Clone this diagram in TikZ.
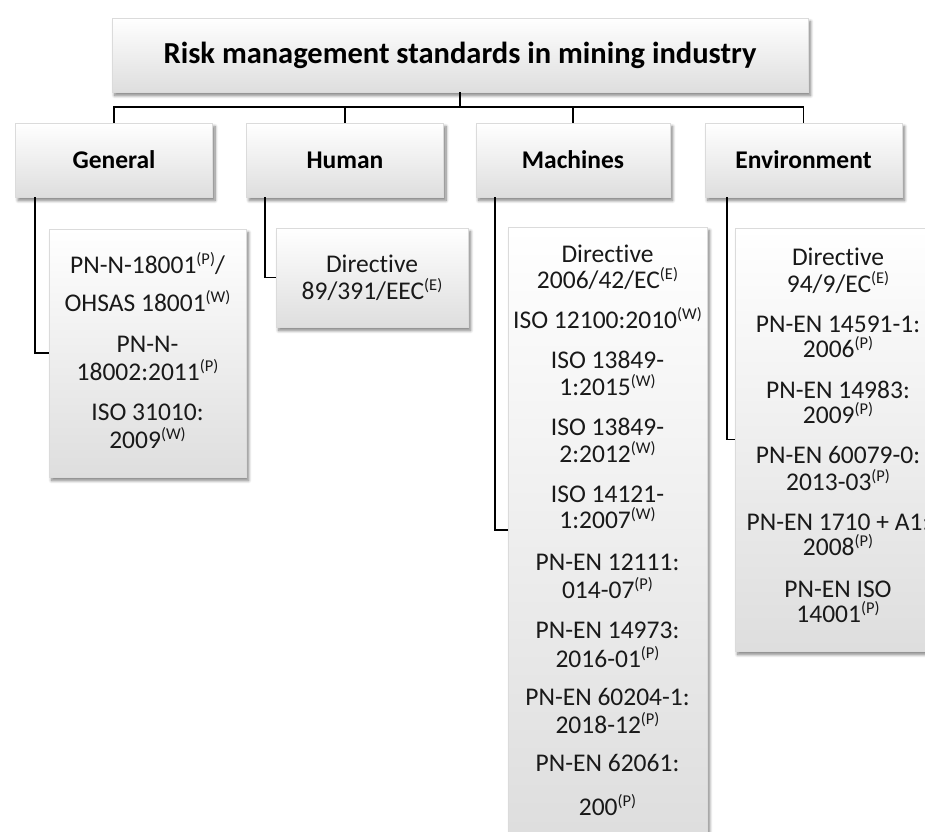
\documentclass[tikz,border=0pt]{standalone}
\usepackage{fontspec}
\setmainfont{Carlito}[Ligatures=NoCommon]
\usetikzlibrary{shadows.blur}
\newcommand\supx[1]{\raisebox{8.5pt}{\fontsize{16.5}{17}\selectfont #1}}
\tikzset{
  box/.style={rectangle, inner sep=0pt, draw=black!14, line width=0.5pt,
    top color=white, bottom color=black!13,
    blur shadow={shadow xshift=2.5pt, shadow yshift=-3.5pt, shadow blur radius=3pt, shadow blur steps=8, shadow opacity=50}},
  titlebox/.style={box, font=\bfseries\fontsize{30.5}{32}\selectfont},
  catbox/.style={box, minimum width=197pt, minimum height=74pt, font=\bfseries\fontsize{25.5}{27}\selectfont},
  conn/.style={line width=1.6pt, black},
  item/.style={anchor=base, inner sep=0pt, text=black!90, font=\fontsize{25.5}{27}\selectfont},
}
\begin{document}
\begin{tikzpicture}[x=1pt, y=-1pt]
\useasboundingbox (0,0) rectangle (925,831);
\clip (0,0) rectangle (925,831);
\coordinate (busy) at (0,107);
% title
\node[titlebox, minimum width=696pt, minimum height=74pt] (title) at (460,55) {Risk management standards in mining industry};
% categories
\node[catbox] (gen) at (114,160) {General};
\node[catbox] (hum) at (345,160) {Human};
\node[catbox, minimum width=194pt] (mach) at (573,160) {Machines};
\node[catbox] (env) at (803.5,160) {Environment};
% child boxes
\node[box, minimum width=197pt, minimum height=248pt] (genlist) at (147.5,353) {};
\node[box, minimum width=192pt, minimum height=99pt] (humlist) at (372,277.5) {};
\node[box, minimum width=199pt, minimum height=606pt] (machlist) at (607.5,530) {};
\node[box, minimum width=206pt, minimum height=423pt] (envlist) at (838,439.5) {};
% connectors
\draw[conn] (title.south) -- (title.south |- busy);
\draw[conn] (gen.north) -- (gen.north |- busy) -- (env.north |- busy) -- (env.north);
\draw[conn] (hum.north) -- (hum.north |- busy);
\draw[conn] (mach.north) -- (mach.north |- busy);
\draw[conn] ([xshift=20pt]gen.south west) |- (genlist.west);
\draw[conn] ([xshift=19pt]hum.south west) |- (humlist.west);
\draw[conn] ([xshift=19pt]mach.south west) |- (machlist.west);
\draw[conn] ([xshift=22pt]env.south west) |- (envlist.west);
% General items
\foreach \y/\t [count=\i] in {273/{PN-N-18001\supx{(P)}/}, 311/{OHSAS 18001\supx{(W)}}, 352/{PN-N-}, 380/{18002:2011\supx{(P)}}, 420/{ISO 31010:}, 448/{2009\supx{(W)}}}
  \node[item, name=g\i] at (147.5,\y) {\t};
% Human items
\foreach \y/\t [count=\i] in {272/{Directive}, 299/{89/391/EEC\supx{(E)}}}
  \node[item, name=h\i] at (372,\y) {\t};
% Machines items
\foreach \y/\t [count=\i] in {262/{Directive}, 288/{2006/42/EC\supx{(E)}}, 328/{ISO 12100:2010\supx{(W)}}, 368/{ISO 13849-}, 395/{1:2015\supx{(W)}}, 435/{ISO 13849-}, 462/{2:2012\supx{(W)}}, 502/{ISO 14121-}, 528/{1:2007\supx{(W)}}, 570/{PN-EN 12111:}, 598/{014-07\supx{(P)}}, 638/{PN-EN 14973:}, 667/{2016-01\supx{(P)}}, 705/{PN-EN 60204-1:}, 733/{2018-12\supx{(P)}}, 771/{PN-EN 62061:}, 815/{200\supx{(P)}}}
  \node[item, name=m\i] at (607.5,\y) {\t};
% Environment items
\foreach \y/\t [count=\i] in {265/{Directive}, 292/{94/9/EC\supx{(E)}}, 332/{PN-EN 14591-1:}, 357/{2006\supx{(P)}}, 398/{PN-EN 14983:}, 423/{2009\supx{(P)}}, 463/{PN-EN 60079-0:}, 490/{2013-03\supx{(P)}}, 530/{PN-EN 1710 + A1:}, 555/{2008\supx{(P)}}, 597/{PN-EN ISO}, 622/{14001\supx{(P)}}}
  \node[item, name=e\i] at (838,\y) {\t};
\end{tikzpicture}
\end{document}
